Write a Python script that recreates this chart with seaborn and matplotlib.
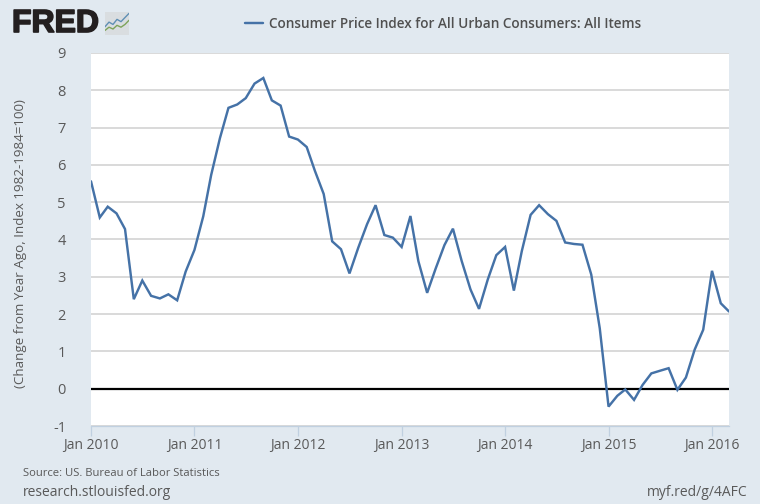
"""
FRED style chart of the CPI percent change from a year ago.
"""

import pandas as pd
import matplotlib.pyplot as plt
import matplotlib.dates as mdates
import matplotlib.patheffects as pe
import seaborn as sns

months = pd.date_range("2010-01-01", "2016-03-01", freq="MS")

cpi_2010 = [5.56, 4.59, 4.88, 4.70, 4.28, 2.40, 2.90, 2.49, 2.42, 2.53, 2.37, 3.14]
cpi_2011 = [3.72, 4.62, 5.73, 6.72, 7.53, 7.62, 7.79, 8.18, 8.33, 7.73, 7.59, 6.76]
cpi_2012 = [6.68, 6.48, 5.84, 5.22, 3.95, 3.74, 3.09, 3.78, 4.41, 4.92, 4.12, 4.05]
cpi_2013 = [3.80, 4.63, 3.42, 2.57, 3.22, 3.85, 4.29, 3.42, 2.66, 2.14, 2.93, 3.58]
cpi_2014 = [3.80, 2.63, 3.69, 4.66, 4.92, 4.68, 4.50, 3.92, 3.88, 3.86, 3.06, 1.62]
cpi_2015 = [-0.48, -0.19, -0.02, -0.30, 0.10, 0.41, 0.48, 0.55, -0.03, 0.30, 1.05, 1.58]
cpi_2016 = [3.16, 2.29, 2.07]
cpi_values = cpi_2010 + cpi_2011 + cpi_2012 + cpi_2013 + cpi_2014 + cpi_2015 + cpi_2016

y_ticks = list(range(-1, 10))
series_name = "Consumer Price Index for All Urban Consumers: All Items"
y_label = "(Change from Year Ago, Index 1982-1984=100)"

# logo sparkline values
logo_x = [0, 1, 2, 3, 4, 5, 6]
logo_blue = [1.0, 2.0, 1.5, 2.6, 2.1, 3.0, 3.9]
logo_green = [0.2, 0.9, 0.5, 1.3, 0.9, 1.5, 2.4]

BG = "#e1e9f0"
LINE = "#4572a7"
TEXT = "#595959"
W, H = 760, 504

sns.set_theme(style="white")
plt.rcParams["font.family"] = ["Open Sans", "DejaVu Sans"]
plt.rcParams["axes.unicode_minus"] = False

df = pd.DataFrame({"date": months, "cpi": cpi_values})

fig = plt.figure(figsize=(W / 100, H / 100), dpi=100, facecolor=BG)
ax = fig.add_axes([91 / W, 1 - 426 / H, (729 - 91) / W, (426 - 53) / H])
ax.set_facecolor("white")

sns.lineplot(data=df, x="date", y="cpi", color=LINE, linewidth=1.75, ax=ax, zorder=4,
             solid_joinstyle="miter", label=series_name, legend=False)
ax.axhline(0, color="black", linewidth=1.6, zorder=3)

ax.set_xlim(months[0], months[-1])
ax.set_ylim(-1, 9)
ax.set_yticks(y_ticks)
ax.grid(axis="y", color="#d0d0d0", linewidth=1.1)
ax.set_axisbelow(True)
ax.xaxis.set_major_locator(mdates.YearLocator(month=1, day=1))
ax.xaxis.set_major_formatter(mdates.DateFormatter("%b %Y"))
ax.tick_params(axis="x", length=7.5, width=0.9, color="#c0d0e0", labelsize=10, labelcolor=TEXT, pad=1.5, bottom=True)
ax.tick_params(axis="y", length=0, labelsize=10.5, labelcolor=TEXT, pad=18)
ax.set_xlabel("")
ax.set_ylabel("")

for side in ["top", "left", "right"]:
    ax.spines[side].set_visible(False)
ax.spines["bottom"].set_color("#c0d0e0")
ax.spines["bottom"].set_linewidth(0.9)

fig.text(21 / W, 1 - 244 / H, y_label, rotation=90, ha="center", va="center", fontsize=9.6, color=TEXT)

# legend at the top
handles, labels = ax.get_legend_handles_labels()
fig.legend(handles, labels, loc="center left", bbox_to_anchor=(245 / W, 1 - 24 / H), frameon=False,
           handlelength=1.3, handletextpad=0.45, prop={"size": 9.8, "weight": 600}, labelcolor="#505050",
           borderpad=0, borderaxespad=0)

# logo
logo_text = fig.text(12 / W, 1 - 24 / H, "FRED", fontsize=23, fontweight="bold", family="Liberation Sans",
                     color="#231f20", ha="left", va="center")
logo_text.set_path_effects([pe.withStroke(linewidth=1.2, foreground="#231f20")])
logo = fig.add_axes([105 / W, 1 - 35 / H, 24 / W, 23 / H])
logo.set_facecolor("#d9dde0")
sns.lineplot(x=logo_x, y=logo_blue, color="#5f8fb4", linewidth=1, ax=logo)
sns.lineplot(x=logo_x, y=logo_green, color="#7da35a", linewidth=1, ax=logo)
logo.set_xlim(0, 6)
logo.set_ylim(-0.8, 4.2)
logo.set_xticks([])
logo.set_yticks([])
logo.set_xlabel("")
logo.set_ylabel("")
for spine in logo.spines.values():
    spine.set_visible(False)

# footer
fig.text(23 / W, 1 - 473 / H, "Source: US. Bureau of Labor Statistics", fontsize=8.15, color=TEXT, ha="left", va="center")
fig.text(23 / W, 1 - 493 / H, "research.stlouisfed.org", fontsize=10, color=TEXT, ha="left", va="center")
fig.text(748 / W, 1 - 493 / H, "myf.red/g/4AFC", fontsize=10, color=TEXT, ha="right", va="center")

fig.savefig("out.png", dpi=100, facecolor=BG)
plt.close(fig)
